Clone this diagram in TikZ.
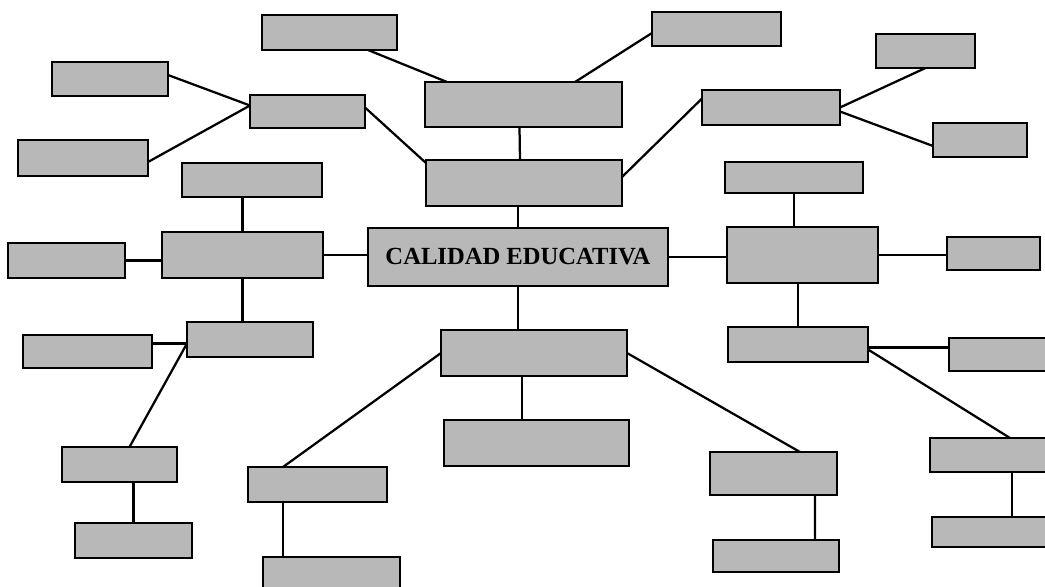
\documentclass[tikz,border=0pt]{standalone}
\usepackage{fontspec}
\setmainfont{Liberation Serif}
\begin{document}
\begin{tikzpicture}[x=0.025cm,y=-0.025cm,
  box/.style={draw=black, line width=2.1pt, fill=black!28, inner sep=0pt, outer sep=0pt},
  link/.style={draw=black, line width=1.6pt}]
\newcommand{\bx}[5]{\node[box, minimum width={(#4-#2)*0.025cm}, minimum height={(#5-#3)*0.025cm}] (#1) at ({(#2+#4)/2},{(#3+#5)/2}) {};}
\useasboundingbox (0,0) rectangle (1045,586);
\clip (0,0) rectangle (1045,586);
% boxes
\bx{T1}{262}{15}{397}{50}
\bx{T2}{652}{12}{781}{46}
\bx{M1}{425}{82}{622}{127}
\bx{M2}{426}{160}{622}{206}
\node[box, minimum width={300*0.025cm}, minimum height={58*0.025cm}, font=\bfseries\fontsize{17.5}{17.5}\selectfont] (C) at (518,257) {CALIDAD EDUCATIVA};
\bx{L1}{52}{62}{168}{96}
\bx{L2}{18}{140}{148}{176}
\bx{LH}{250}{95}{365}{128}
\bx{RH}{702}{90}{840}{125}
\bx{R1}{876}{34}{975}{68}
\bx{R2}{933}{123}{1027}{157}
\bx{LT}{182}{163}{322}{197}
\bx{LM}{162}{232}{323}{278}
\bx{LL}{8}{243}{125}{278}
\bx{RT}{725}{162}{863}{193}
\bx{RM}{727}{227}{878}{283}
\bx{RR1}{947}{237}{1040}{270}
\bx{LB}{187}{322}{313}{357}
\bx{LB2}{23}{335}{152}{368}
\bx{LB3}{62}{447}{177}{482}
\bx{LB4}{75}{523}{192}{558}
\bx{BC}{441}{330}{627}{376}
\bx{BB}{444}{420}{629}{466}
\bx{BL}{248}{467}{387}{502}
\bx{BL2}{263}{557}{400}{592}
\bx{BR}{710}{452}{837}{495}
\bx{BR2}{713}{540}{839}{572}
\bx{RB}{728}{327}{868}{362}
\bx{RR}{949}{338}{1052}{371}
\bx{RS}{930}{438}{1052}{472}
\bx{RS2}{932}{517}{1052}{547}
% connectors
\draw[link] ([shift={(0,-4)}]L1.east) -- ([shift={(0,-6)}]LH.west);
\draw[link] ([shift={(0,4)}]L2.east) -- ([shift={(0,-6)}]LH.west);
\draw[link] ([shift={(0,-4)}]LH.east) -- ([shift={(0,3)}]M2.north west);
\draw[link] ([shift={(-29,0)}]T1.south east) -- ([shift={(22,0)}]M1.north west);
\draw[link] ([shift={(0,4)}]T2.west) -- ([shift={(-47,0)}]M1.north east);
\draw[link] ([shift={(-4,0)}]M1.south) -- ([shift={(-4,0)}]M2.north);
\draw[link] (C.north) -- (C.north |- M2.south);
\draw[link] ([shift={(0,-6)}]M2.east) -- ([shift={(0,-9)}]RH.west);
\draw[link] (RH.east) -- (R1.south);
\draw[link] ([shift={(0,4)}]RH.east) -- ([shift={(0,6)}]R2.west);
\draw[link] (LM.north) -- (LM.north |- LT.south);
\draw[link] (LL.east) -- (LL.east -| LM.west);
\draw[link] (LM.east) -- (LM.east -| C.west);
\draw[link] (LM.south) -- (LM.south |- LB.north);
\draw[link] ([shift={(0,-8)}]LB2.east) -- ([shift={(0,4)}]LB.west);
\draw[link] ([shift={(0,4)}]LB.west) -- ([shift={(10,0)}]LB3.north);
\draw[link] (LB4.north) -- (LB4.north |- LB3.south);
\draw[link] (C.south) -- (C.south |- BC.north);
\draw[link] ([shift={(-12,0)}]BC.south) -- ([shift={(-14.5,0)}]BB.north);
\draw[link] (BC.west) -- ([shift={(-34.5,0)}]BL.north);
\draw[link] ([shift={(-34.5,0)}]BL.south) -- ([shift={(-48.5,0)}]BL2.north);
\draw[link] (BC.east) -- ([shift={(26.5,0)}]BR.north);
\draw[link] ([shift={(41.5,0)}]BR.south) -- ([shift={(39,0)}]BR2.north);
\draw[link] (C.east) -- (C.east -| RM.west);
\draw[link] (RT.south) -- (RT.south |- RM.north);
\draw[link] (RM.east) -- (RM.east -| RR1.west);
\draw[link] (RB.north) -- (RB.north |- RM.south);
\draw[link] ([shift={(0,3)}]RB.east) -- ([shift={(0,-7)}]RR.west);
\draw[link] ([shift={(0,5)}]RB.east) -- ([shift={(19,0)}]RS.north);
\draw[link] ([shift={(21,0)}]RS.south) -- ([shift={(20,0)}]RS2.north);
\end{tikzpicture}
\end{document}
